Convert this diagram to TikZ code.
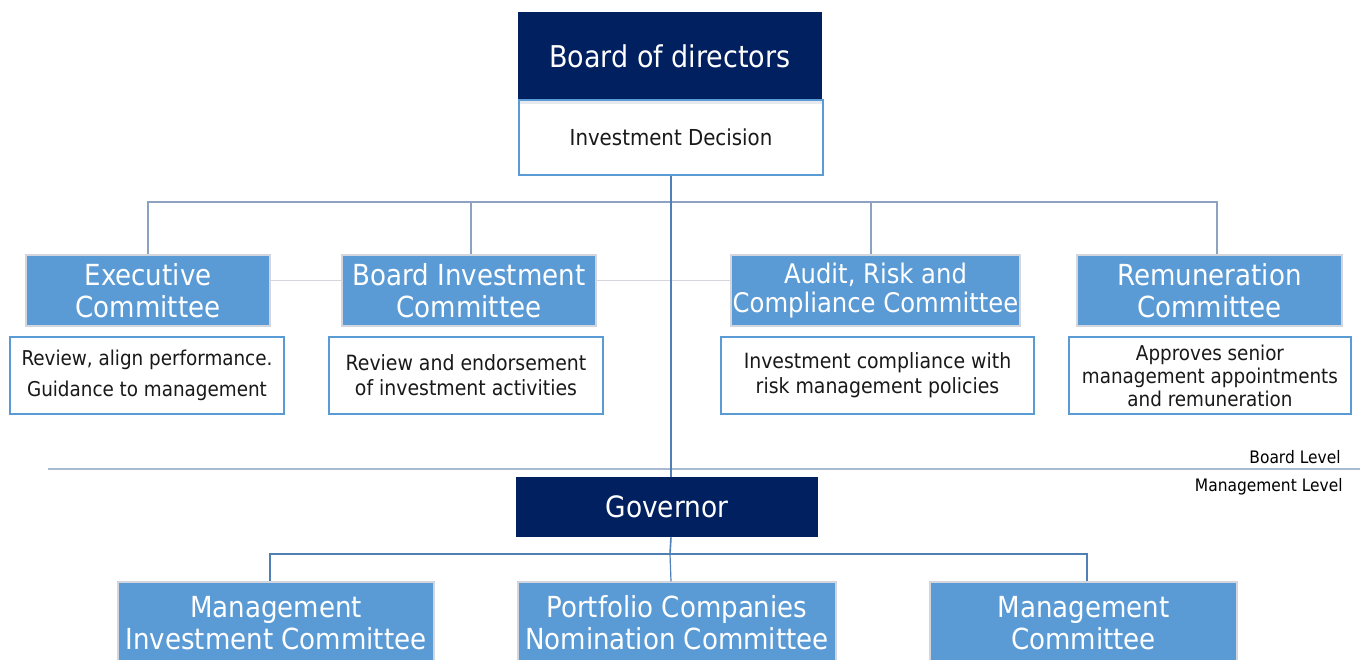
\documentclass[tikz,border=0pt]{standalone}
\usepackage{fontspec}
\setmainfont{DejaVu Sans Condensed}

\definecolor{navy}{HTML}{002060}
\definecolor{comblue}{HTML}{5B9BD5}
\definecolor{busline}{HTML}{8CA2C0}
\definecolor{mainline}{HTML}{4F7FB5}
\definecolor{linkgrey}{HTML}{D3D7DD}
\definecolor{sepline}{HTML}{A9BBD0}
\definecolor{stripgrey}{HTML}{E6EAEF}

\begin{document}
\begin{tikzpicture}[x=0.5pt, y=-0.5pt,
    topbox/.style={draw=none, fill=navy, text=white, align=center, inner sep=0pt},
    combox/.style={draw=linkgrey, line width=0.6pt, fill=comblue, text=white, align=center,
      inner sep=0pt, minimum height=35.5pt, font=\fontsize{14.5}{16}\selectfont},
    descbox/.style={draw=comblue, line width=0.6pt, fill=white, text=black!90, align=center,
      inner sep=0pt, minimum height=38.5pt, font=\fontsize{10.5}{12.5}\selectfont},
    levellabel/.style={anchor=east, inner sep=0pt, font=\fontsize{8.6}{10}\selectfont}]
    \useasboundingbox (0,0) rectangle (1360,659);
    \clip (0,0) rectangle (1360,659);

    \node[topbox, minimum width=152pt, minimum height=44pt, font=\fontsize{15}{18}\selectfont] (board) at (670,56) {Board of directors};
    \node[descbox, minimum width=152pt, minimum height=37.5pt, font=\fontsize{11}{13}\selectfont,
      path picture={\fill[stripgrey] (path picture bounding box.north west) rectangle ([yshift=-2pt]path picture bounding box.north east);}]
      (decision) at (671,137.5) {Investment Decision};

    \node[combox, minimum width=122pt] (exec) at (148,290.5) {Executive\\Committee};
    \node[combox, minimum width=127pt] (bic) at (469,290.5) {Board Investment\\Committee};
    \node[combox, minimum width=144.5pt, font=\fontsize{13.5}{14.5}\selectfont] (arc) at (875.5,290.5) {Audit, Risk and\\Compliance Committee};
    \node[combox, minimum width=132.5pt] (rem) at (1209.5,290.5) {Remuneration\\Committee};

    \node[descbox, minimum width=137pt, font=\fontsize{10.2}{15.5}\selectfont] (execdesc) at (147,375.5) {Review, align performance.\\Guidance to management};
    \node[descbox, minimum width=137pt] (bicdesc) at (466,375.5) {Review and endorsement\\of investment activities};
    \node[descbox, minimum width=156.5pt] (arcdesc) at (877.5,375.5) {Investment compliance with\\risk management policies};
    \node[descbox, minimum width=141pt, font=\fontsize{10.2}{11.5}\selectfont] (remdesc) at (1210,375.5) {Approves senior\\management appointments\\and remuneration};

    \node[topbox, minimum width=151pt, minimum height=30pt, font=\fontsize{14.7}{17}\selectfont] (governor) at (667,507) {Governor};

    \node[combox, minimum width=158pt, minimum height=41pt] (mic) at (276,623) {Management\\Investment Committee};
    \node[combox, minimum width=159pt, minimum height=41pt] (pcnc) at (677,623) {Portfolio Companies\\Nomination Committee};
    \node[combox, minimum width=153.5pt, minimum height=41pt] (mc) at (1083.5,623) {Management\\Committee};

    % board / management split
    \coordinate (sepL) at (48,469);
    \coordinate (sepR) at (1360,469);
    \draw[sepline, line width=0.9pt] (sepL) -- (sepR);
    \node[levellabel] (boardlevel) at (1341,457) {Board Level};
    \node[levellabel] (mgmtlevel) at (1343,487) {Management Level};

    % connectors
    \coordinate (bus) at (670,202);
    \coordinate (gbus) at (670,554);
    \draw[busline, line width=0.7pt] (exec.north) |- (bus);
    \draw[busline, line width=0.7pt] ([xshift=1pt]bic.north) |- (bus);
    \draw[busline, line width=0.7pt] ([xshift=-2.25pt]arc.north) |- (bus);
    \draw[busline, line width=0.7pt] ([xshift=3.75pt]rem.north) |- (bus);
    \draw[linkgrey, line width=0.8pt] ([yshift=5pt]exec.east) -- ([yshift=5pt]bic.west);
    \draw[linkgrey, line width=0.8pt] ([yshift=5pt]bic.east) -- ([yshift=5pt]arc.west);
    \draw[mainline, line width=0.9pt] (decision.south) -- (decision.south |- governor.north);
    \draw[mainline, line width=0.8pt] (decision.south |- governor.south) -- (gbus);
    \draw[mainline, line width=0.8pt] ([xshift=-3pt]mic.north) |- (gbus);
    \draw[mainline, line width=0.6pt] ([xshift=-3pt]pcnc.north) -- (gbus);
    \draw[mainline, line width=0.8pt] ([xshift=1.75pt]mc.north) |- (gbus);
\end{tikzpicture}
\end{document}
